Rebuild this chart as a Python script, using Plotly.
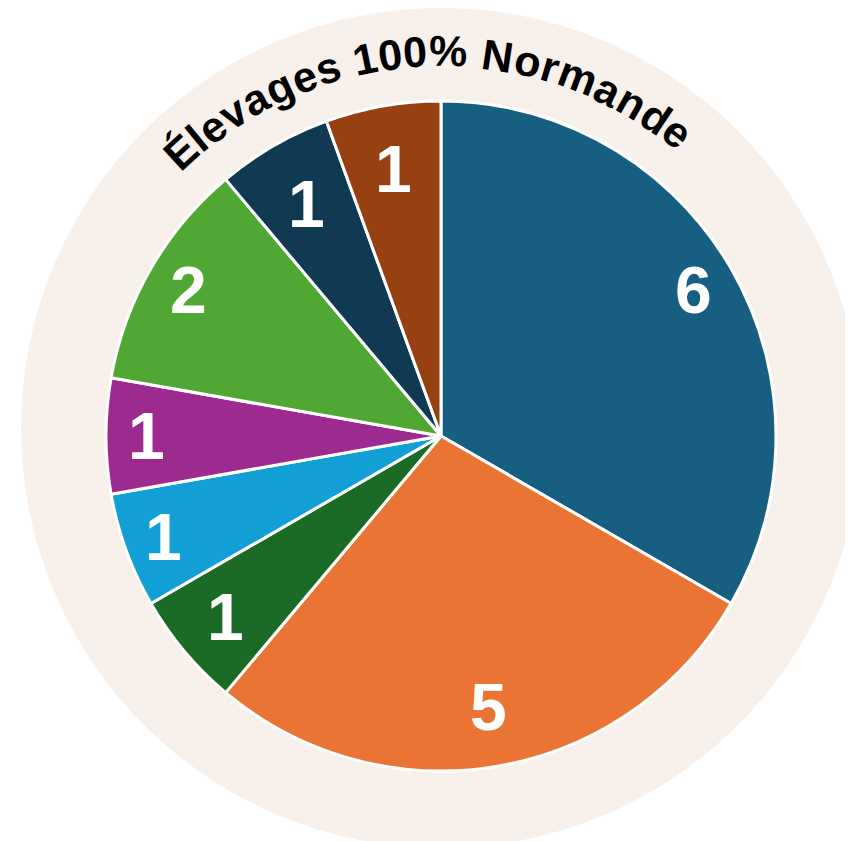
import math
import plotly.graph_objects as go

# Data
values = [6, 5, 1, 1, 1, 2, 1, 1]
labels = ["A", "B", "C", "D", "E", "F", "G", "H"]
colors = ["#175F80", "#EA7433", "#1B6A25", "#129FD6", "#9D2B8F", "#51A733", "#0F3A51", "#974012"]
title_text = "Élevages 100% Normande"

W, H = 853, 841
OFF = 8  # page body margin
CX, CY, R = 441 - OFF, 436 - OFF, 335  # pie center & radius in px
label_r = [0.87, 0.82, 0.84, 0.88, 0.88, 0.87, 0.80, 0.81]  # label placement (fraction of radius)

fig = go.Figure()

fig.add_trace(go.Pie(
    values=values, labels=labels, sort=False, direction="clockwise", rotation=0,
    marker=dict(colors=colors, line=dict(color="white", width=3)),
    textinfo="none", hoverinfo="label+value",
    domain=dict(x=[(CX - R) / W, (CX + R) / W], y=[1 - (CY + R) / H, 1 - (CY - R) / H]),
))

# background beige circle
BCX, BCY, BR = 441 - OFF, 428 - OFF, 420
fig.add_shape(type="circle", xref="paper", yref="paper",
              x0=(BCX - BR) / W, x1=(BCX + BR) / W,
              y0=1 - (BCY + BR) / H, y1=1 - (BCY - BR) / H,
              fillcolor="#F7F0EB", line=dict(width=0), layer="below")

annotations = []
# value labels
total = sum(values)
cum = 0
for v, fr in zip(values, label_r):
    mid = (cum + v / 2) / total * 2 * math.pi
    cum += v
    rr = fr * R
    px = CX + rr * math.sin(mid)
    py = CY - rr * math.cos(mid)
    annotations.append(dict(x=px / W, y=1 - py / H, xref="paper", yref="paper",
                            text=str(v), showarrow=False, xanchor="center", yanchor="middle",
                            font=dict(family="Liberation Sans, Arial", size=66, color="white", weight="bold")))

# curved title
widths = {"É": 667, "l": 278, "e": 556, "v": 556, "a": 556, "g": 611, "s": 556, " ": 278,
          "1": 556, "0": 556, "%": 889, "N": 722, "o": 611, "r": 389, "m": 889, "n": 611, "d": 611}
FS = 43
RB = 361  # baseline radius
RM = RB + 0.55 * FS
center_angle = math.radians(-2.5)
adv = [widths.get(c, 556) / 1000 * FS for c in title_text]
total_w = sum(adv)
s = -total_w / 2
for c, a in zip(title_text, adv):
    sc = s + a / 2
    s += a
    if c == " ":
        continue
    th = center_angle + sc / RB
    px = CX + RM * math.sin(th)
    py = CY - RM * math.cos(th)
    annotations.append(dict(x=px / W, y=1 - py / H, xref="paper", yref="paper",
                            text=c, showarrow=False, xanchor="center", yanchor="middle",
                            textangle=math.degrees(th),
                            font=dict(family="Liberation Sans, Arial", size=FS, color="black", weight="bold")))

fig.update_layout(width=W, height=H, margin=dict(l=0, r=0, t=0, b=0),
                  paper_bgcolor="white", plot_bgcolor="white", showlegend=False,
                  annotations=annotations)

fig.write_html("out.html")
